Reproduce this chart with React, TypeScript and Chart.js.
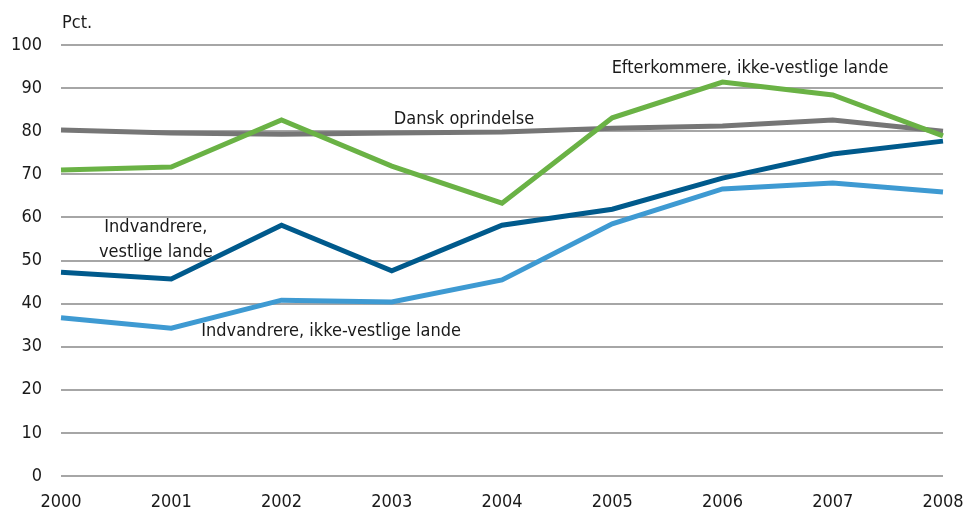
import React, { useEffect, useRef } from "react";
import { Chart, registerables } from "chart.js";

Chart.register(...registerables);

const years = ["2000", "2001", "2002", "2003", "2004", "2005", "2006", "2007", "2008"];
const dansk = [80.3, 79.6, 79.3, 79.6, 79.8, 80.7, 81.2, 82.6, 80.0];
const efterkommere = [71.0, 71.7, 82.6, 71.9, 63.3, 83.1, 91.4, 88.4, 78.9];
const vestlige = [47.3, 45.7, 58.2, 47.6, 58.2, 61.9, 69.1, 74.7, 77.7];
const ikkeVestlige = [36.7, 34.3, 40.8, 40.4, 45.5, 58.5, 66.6, 68.0, 65.9];

const FONT = "'DejaVu Sans Condensed', 'DejaVu Sans', sans-serif";
const TEXT = "#1a1a1a";

// annotation labels: text lines, anchor in data coordinates (x index, y value)
const notes = [
  { lines: ["Efterkommere, ikke-vestlige lande"], x: 6.25, y: 94.6 },
  { lines: ["Dansk oprindelse"], x: 3.655, y: 82.8 },
  { lines: ["Indvandrere,", "vestlige lande"], x: 0.86, y: 57.8 },
  { lines: ["Indvandrere, ikke-vestlige lande"], x: 2.45, y: 33.5 },
];

const notesPlugin = {
  id: "notes",
  afterDraw(chart: any) {
    const { ctx, scales } = chart;
    ctx.save();
    ctx.fillStyle = TEXT;
    ctx.font = `18px ${FONT}`;
    ctx.textBaseline = "middle";
    ctx.textAlign = "left";
    ctx.fillText("Pct.", chart.chartArea.left + 1, 23);
    ctx.textAlign = "center";
    for (const n of notes) {
      const px = scales.x.getPixelForValue(n.x);
      const py = scales.y.getPixelForValue(n.y);
      n.lines.forEach((l, i) => ctx.fillText(l, px, py + i * 25));
    }
    ctx.restore();
  },
};

export default function App() {
  const ref = useRef<HTMLCanvasElement>(null);
  useEffect(() => {
    if (!ref.current) return;
    const ds = (data: number[], color: string) => ({
      data,
      borderColor: color,
      backgroundColor: color,
      borderWidth: 5,
      pointRadius: 0,
      tension: 0,
      borderJoinStyle: "miter" as const,
      borderCapStyle: "butt" as const,
      fill: false,
    });
    const chart = new Chart(ref.current, {
      type: "line",
      data: {
        labels: years,
        datasets: [
          ds(efterkommere, "#6ab245"),
          ds(dansk, "#767676"),
          ds(vestlige, "#005a8c"),
          ds(ikkeVestlige, "#3e9ad2"),
        ],
      },
      options: {
        animation: false,
        responsive: false,
        layout: { padding: { top: 45, right: 21, left: 0, bottom: 0 } },
        plugins: { legend: { display: false }, tooltip: { enabled: false } },
        scales: {
          x: {
            type: "category",
            offset: false,
            grid: { display: false, drawTicks: false },
            border: { display: false },
            ticks: {
              color: TEXT,
              font: { family: FONT, size: 18 },
              maxRotation: 0,
              autoSkip: false,
              padding: 16,
            },
            afterFit(s: any) {
              s.height = 32;
              s.paddingLeft = 0;
              s.paddingRight = 0;
            },
          },
          y: {
            min: 0,
            max: 100,
            grid: { color: "#a6a6a6", lineWidth: 2, drawTicks: false },
            border: { display: false },
            ticks: {
              stepSize: 10,
              color: TEXT,
              font: { family: FONT, size: 18 },
              padding: 19,
            },
            afterFit(s: any) {
              s.width = 61;
              s.paddingTop = 0;
              s.paddingBottom = 0;
            },
          },
        },
      },
      plugins: [notesPlugin],
    });
    return () => chart.destroy();
  }, []);
  return (
    <div style={{ position: "fixed", left: 0, top: 0, width: 964, height: 508, background: "#fff" }}>
      <canvas ref={ref} width={964} height={508} style={{ display: "block" }} />
    </div>
  );
}
